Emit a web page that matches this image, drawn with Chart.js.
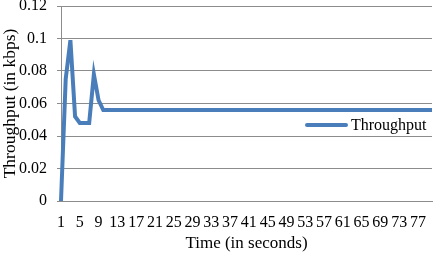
<!DOCTYPE html>
<html>
<head>
<meta charset="utf-8">
<script src="https://cdn.jsdelivr.net/npm/chart.js@4.4.1/dist/chart.umd.min.js"></script>
<style>
  html, body { margin: 0; padding: 0; background: #fff; }
  #wrap { position: relative; width: 433px; height: 255px; }
  #legend { position: absolute; left: 305px; top: 116px; font-family: "Liberation Serif", serif; font-size: 16px; color: #000; display: flex; align-items: center; }
  #legend span.swatch { display: inline-block; width: 43px; height: 4px; background: #4a7ebb; margin-right: 3px; border-radius: 2px; }
</style>
</head>
<body>
<div id="wrap">
  <canvas id="chart" width="433" height="255"></canvas>
  <div id="legend"><span class="swatch"></span><span id="legendText"></span></div>
</div>
<script>
const seconds = [1, 2, 3, 4, 5, 6, 7, 8, 9, 10, 11, 12, 13, 14, 15, 16, 17, 18, 19, 20,
  21, 22, 23, 24, 25, 26, 27, 28, 29, 30, 31, 32, 33, 34, 35, 36, 37, 38, 39, 40,
  41, 42, 43, 44, 45, 46, 47, 48, 49, 50, 51, 52, 53, 54, 55, 56, 57, 58, 59, 60,
  61, 62, 63, 64, 65, 66, 67, 68, 69, 70, 71, 72, 73, 74, 75, 76, 77, 78, 79, 80];

const throughput = [0, 0.075, 0.099, 0.052, 0.048, 0.048, 0.048, 0.078, 0.062, 0.056,
  0.056, 0.056, 0.056, 0.056, 0.056, 0.056, 0.056, 0.056, 0.056, 0.056,
  0.056, 0.056, 0.056, 0.056, 0.056, 0.056, 0.056, 0.056, 0.056, 0.056,
  0.056, 0.056, 0.056, 0.056, 0.056, 0.056, 0.056, 0.056, 0.056, 0.056,
  0.056, 0.056, 0.056, 0.056, 0.056, 0.056, 0.056, 0.056, 0.056, 0.056,
  0.056, 0.056, 0.056, 0.056, 0.056, 0.056, 0.056, 0.056, 0.056, 0.056,
  0.056, 0.056, 0.056, 0.056, 0.056, 0.056, 0.056, 0.056, 0.056, 0.056,
  0.056, 0.056, 0.056, 0.056, 0.056, 0.056, 0.056, 0.056, 0.056, 0.056];

const seriesName = 'Throughput';
const xTitle = 'Time (in seconds)';
const yTitle = 'Throughput (in kbps)';
const yTicks = [0, 0.02, 0.04, 0.06, 0.08, 0.1, 0.12];

const serif = "'Liberation Serif', 'Times New Roman', serif";
const gridColor = '#8c8c8c';

document.querySelector('#legendText').textContent = seriesName;

const ctx = document.querySelector('#chart').getContext('2d');
const throughputChart = new Chart(ctx, {
  type: 'line',
  data: {
    labels: seconds,
    datasets: [{
      label: seriesName,
      data: throughput,
      borderColor: '#4a7ebb',
      borderWidth: 4,
      pointRadius: 0,
      tension: 0,
      fill: false
    }]
  },
  options: {
    responsive: false,
    animation: false,
    layout: { autoPadding: false, padding: { left: 0, right: 1, top: 6, bottom: 0 } },
    plugins: {
      legend: { display: false },
      tooltip: { enabled: false }
    },
    scales: {
      x: {
        offset: false,
        afterFit: function (axis) {
          axis.height = 54;
          axis.paddingLeft = 0;
          axis.paddingRight = 0;
        },
        grid: { display: false, drawTicks: false },
        border: { display: true, color: gridColor, width: 1 },
        ticks: {
          autoSkip: false,
          maxRotation: 0,
          minRotation: 0,
          padding: 12,
          color: '#000',
          font: { family: serif, size: 16 },
          callback: function (value, index) {
            return index % 4 === 0 ? seconds[index] : '';
          }
        },
        title: {
          display: true,
          text: xTitle,
          color: '#000',
          font: { family: serif, size: 17 },
          padding: { top: 0, bottom: 1 }
        }
      },
      y: {
        min: 0,
        max: 0.12,
        afterFit: function (axis) {
          axis.width = 61;
          axis.paddingTop = 0;
          axis.paddingBottom = 0;
        },
        afterBuildTicks: function (axis) {
          axis.ticks = yTicks.map(v => ({ value: v }));
        },
        grid: { color: gridColor, tickLength: 4, lineWidth: 1 },
        border: { display: true, color: gridColor, width: 1 },
        ticks: {
          padding: 10,
          color: '#000',
          font: { family: serif, size: 16 },
          callback: function (value) {
            return String(parseFloat(value.toFixed(2)));
          }
        },
        title: {
          display: true,
          text: yTitle,
          color: '#000',
          font: { family: serif, size: 17.5 },
          padding: { top: 0, bottom: 0 }
        }
      }
    }
  }
});
</script>
</body>
</html>
